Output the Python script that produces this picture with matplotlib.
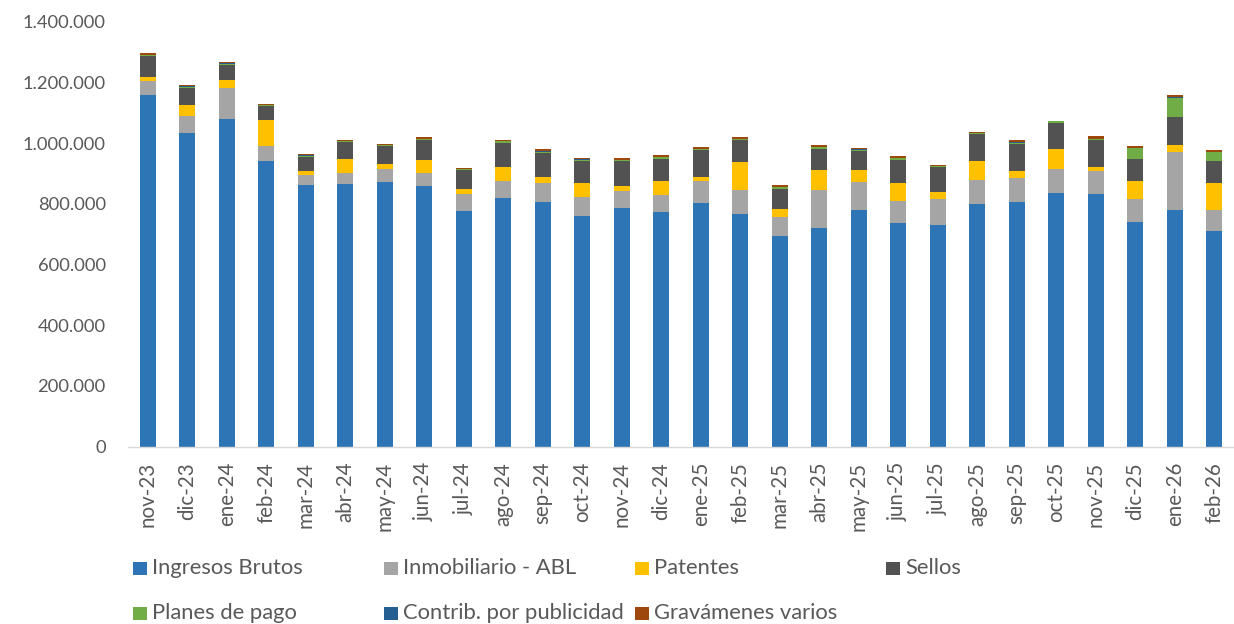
import matplotlib
matplotlib.use("Agg")
import matplotlib.pyplot as plt
from matplotlib.patches import Rectangle
from matplotlib.ticker import FuncFormatter, MultipleLocator
import numpy as np

plt.rcParams['font.family'] = ['Lato', 'DejaVu Sans']

months = ["nov-23", "dic-23", "ene-24", "feb-24", "mar-24", "abr-24", "may-24", "jun-24",
          "jul-24", "ago-24", "sep-24", "oct-24", "nov-24", "dic-24", "ene-25", "feb-25",
          "mar-25", "abr-25", "may-25", "jun-25", "jul-25", "ago-25", "sep-25", "oct-25",
          "nov-25", "dic-25", "ene-26", "feb-26"]

ingresos_brutos = [1160000, 1034000, 1079000, 942000, 861000, 866000, 873000, 860000,
                   777000, 820000, 807000, 759000, 787000, 774000, 804000, 767000,
                   695000, 721000, 780000, 736000, 731000, 800000, 806000, 835000,
                   833000, 739000, 781000, 711000]
inmobiliario_abl = [44000, 54000, 101000, 49000, 33000, 36000, 43000, 40000,
                    54000, 55000, 62000, 63000, 56000, 55000, 72000, 77000,
                    61000, 126000, 93000, 72000, 84000, 78000, 80000, 80000,
                    75000, 76000, 189000, 68000]
patentes = [13000, 37000, 28000, 84000, 15000, 47000, 15000, 43000,
            17000, 48000, 20000, 48000, 16000, 45000, 13000, 94000,
            28000, 66000, 40000, 61000, 25000, 64000, 21000, 65000,
            15000, 60000, 24000, 89000]
sellos = [70000, 57000, 51000, 47000, 46000, 55000, 59000, 66000,
          64000, 78000, 79000, 72000, 81000, 74000, 88000, 72000,
          66000, 69000, 61000, 76000, 81000, 88000, 90000, 87000,
          88000, 74000, 93000, 73000]
planes_de_pago = [3000, 4000, 3000, 2000, 4000, 4000, 3000, 5000,
                  3000, 5000, 4000, 4000, 4000, 5000, 4000, 4000,
                  5000, 4000, 5000, 5000, 4000, 4000, 5000, 5000,
                  2000, 36000, 63000, 30000]
contrib_publicidad = [600, 600, 400, 400, 600, 400, 400, 700,
                      400, 600, 600, 600, 600, 700, 600, 600,
                      600, 600, 700, 600, 400, 400, 700, 400,
                      700, 600, 700, 600]
gravamenes_varios = [6000, 5000, 4000, 4000, 4000, 1000, 3000, 6000,
                     2500, 3000, 7000, 5000, 5000, 7000, 5000, 5000,
                     6000, 7000, 4000, 7000, 1000, 2000, 6000, 1500,
                     9000, 5000, 7000, 5000]

series_names = ["Ingresos Brutos", "Inmobiliario - ABL", "Patentes", "Sellos",
                "Planes de pago", "Contrib. por publicidad", "Gravámenes varios"]
series_values = [ingresos_brutos, inmobiliario_abl, patentes, sellos,
                 planes_de_pago, contrib_publicidad, gravamenes_varios]
series_colors = ["#2E75B6", "#A5A5A5", "#FFC000", "#525252",
                 "#70AD47", "#255E91", "#9E480E"]

text_color = "#595959"
W, H = 1234, 624
fig = plt.figure(figsize=(W / 100, H / 100), dpi=100)
ax = fig.add_axes([128 / W, 1 - 446.7 / H, 1 - 128 / W, (446.7 - 21.7) / H])

x = np.arange(len(months))
bottom = np.zeros(len(months))
for name, vals, col in zip(series_names, series_values, series_colors):
    v = np.array(vals, dtype=float)
    ax.bar(x, v, width=0.41, bottom=bottom, color=col, label=name, zorder=2)
    bottom += v

ax.set_xlim(-0.5, len(months) - 0.5)
ax.set_ylim(0, 1400000)
ax.yaxis.set_major_locator(MultipleLocator(200000))
ax.yaxis.set_major_formatter(FuncFormatter(lambda v, p: f"{int(v):,}".replace(",", ".")))
ax.set_xticks(x)
ax.set_xticklabels(months, rotation=90)
for s in ["top", "right", "left"]:
    ax.spines[s].set_visible(False)
ax.spines["bottom"].set_color("#D9D9D9")
ax.spines["bottom"].set_linewidth(1.0)
ax.tick_params(axis="y", length=0, pad=16, labelsize=13.2, labelcolor=text_color)
ax.tick_params(axis="x", length=0, pad=11, labelsize=14.8, labelcolor=text_color)

# legend laid out like the original (row-major, 4 equal columns)
leg_x = [133, 384, 635, 886, 133, 384, 635]
leg_y = [568, 568, 568, 568, 613, 613, 613]
for name, col, lx, ly in zip(series_names, series_colors, leg_x, leg_y):
    fig.patches.append(Rectangle((lx / W, (H - ly - 6.5) / H), 14 / W, 13 / H,
                                 transform=fig.transFigure, facecolor=col, edgecolor="none"))
    fig.text((lx + 19) / W, (H - ly) / H, name, fontsize=15.8, color=text_color,
             va="center", ha="left")

fig.savefig("out.png", dpi=100)
